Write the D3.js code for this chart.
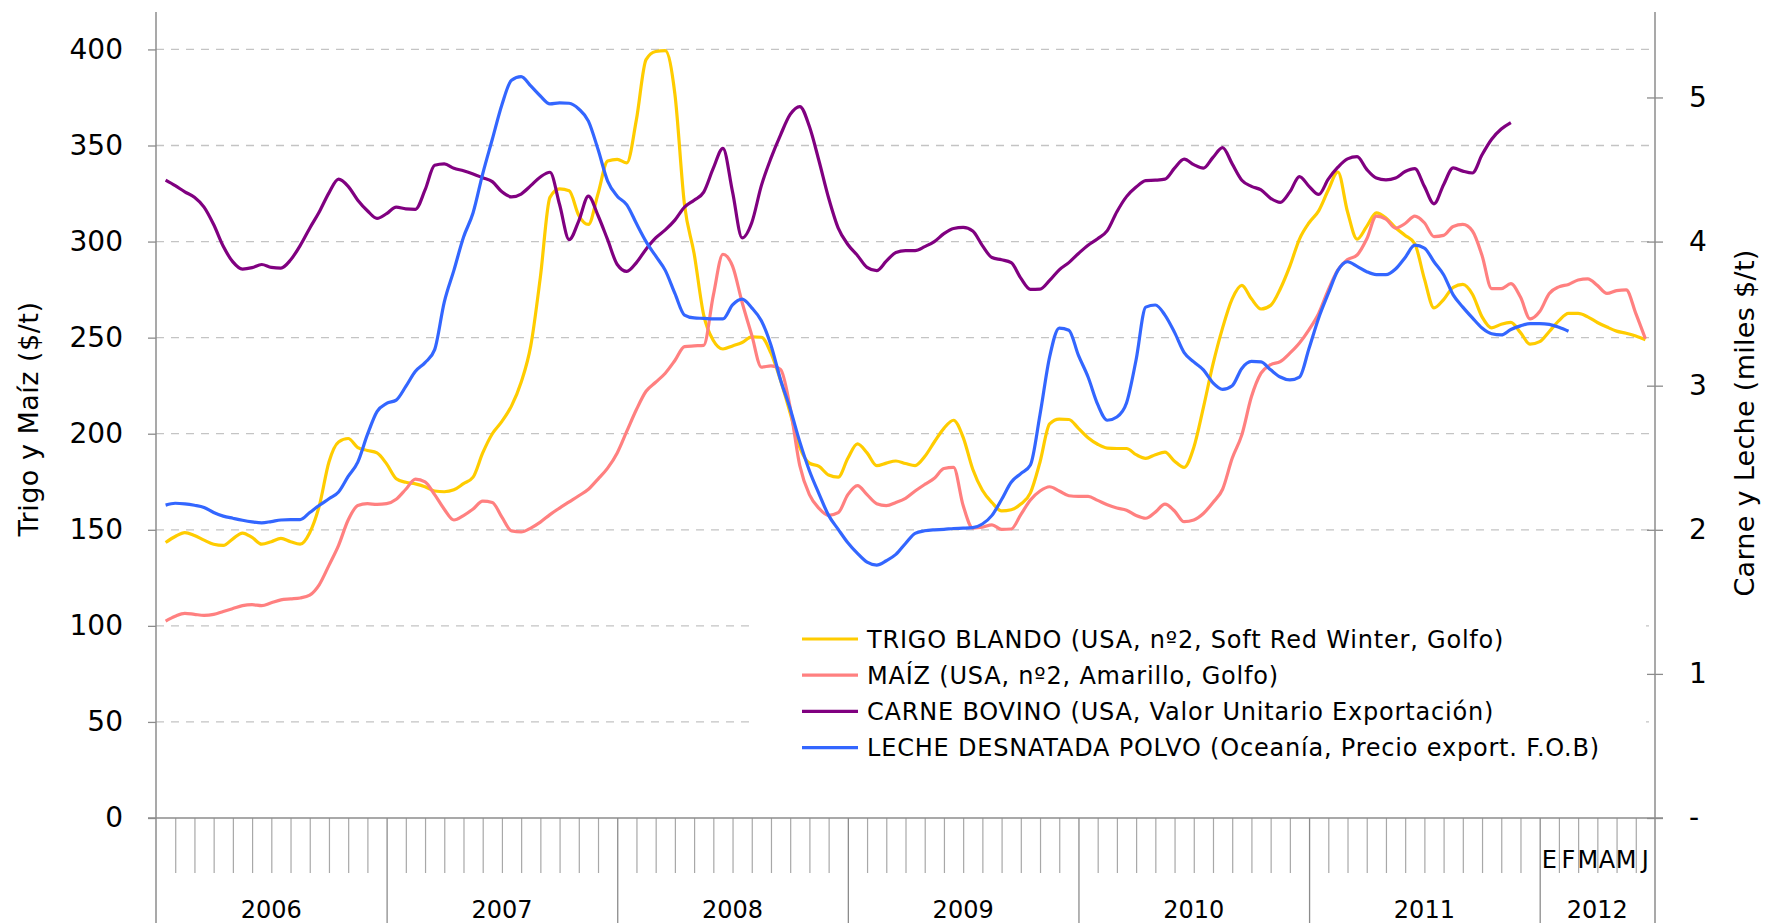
<!DOCTYPE html>
<html>
<head>
<meta charset="utf-8">
<script src="https://cdn.jsdelivr.net/npm/d3@7"></script>
<style>
  body { margin: 0; background: #fff; }
  svg { display: block; font-family: "DejaVu Sans", sans-serif; }
</style>
</head>
<body>
<div id="chart"></div>
<script>
// Values every half month, starting mid January 2006 ($/t)
const trigo = [
  143.4, 146.5, 148.5, 147, 144.6, 142.5, 141.9, 145.3, 148.3, 146, 142.5, 143.8, 145.5, 143.8, 142.5, 148.5,
  162.6, 185.3, 195.7, 197.5, 192.8, 191.3, 190, 184.3, 176.6, 174.7, 173.9, 172.4, 170.2, 169.8, 170.8,
  174, 177.4, 190, 200, 206.4, 214.5, 226.8, 245.7, 281.5, 323, 327.4, 326.4, 313.6, 308.9, 324.9, 341.9,
  342.8, 341, 363.6, 394.7, 398.9, 399.4, 376.8, 319.2, 293.8, 261.7, 248.5, 244.1, 245.7, 247.5, 250.4,
  250.2, 241.9, 227.7, 210.8, 192.8, 184.7, 183, 178.5, 177.4, 187.2, 194.7, 190, 183.4, 184.7, 185.8, 184.5,
  183.4, 188.1, 195.7, 202.8, 207, 198.1, 181.5, 170.6, 164.2, 159.8, 160.4, 163.4, 169.2, 185.3, 205.1, 207.6,
  207.4, 202.8, 197.9, 194.5, 192.5, 192.3, 192.3, 189.1, 187.2, 189.1, 190.4, 185.7, 182.5, 192.8, 213.6, 236.2,
  255.1, 270.2, 277.2, 270.2, 264.9, 266.8, 275.3, 287.2, 301.3, 309.8, 316, 326.8, 336.2, 315.5, 301.3,
  307.9, 314.9, 312.3, 307.2, 303.2, 298.9, 280.6, 265.5, 269.8, 276.2, 277.7, 272.6, 260.8, 255.1, 257,
  257.9, 252.6, 246.6, 247.9, 253.2, 258.9, 262.6, 262.6, 260.8, 257.9, 255.5, 253.4, 252.3, 250.8, 248.9
];
const maiz = [
  102.5, 105, 106.5, 106, 105.5, 106, 107.5, 109, 110.5, 111, 110.5, 112, 113.5, 114, 114.5, 116,
  121.5, 131.5, 141.9, 155.1, 162.6, 163.6, 163.2, 163.6, 165.9, 171.1, 176.4, 174.9, 168.3, 160.7, 155.1,
  157.4, 160.8, 164.9, 164.2, 156.6, 149.4, 148.9, 150.9, 154, 157.9, 161.3, 164.5, 167.7, 171.1, 176.4, 182.1,
  190, 201.3, 212.6, 222.1, 226.8, 231.5, 238.1, 245.3, 245.7, 246, 272, 293.4, 287.2, 268.3, 251.3,
  234.7, 235.3, 233.4, 213.6, 183.4, 168.3, 161.1, 157.5, 158.9, 168.3, 173, 168.3, 163.6, 162.6, 164.2, 166.4,
  170.2, 173.6, 176.8, 181.9, 182.5, 162.6, 150.9, 151.3, 152.6, 150.2, 150.4, 157.9, 165.5, 170.2, 172.4, 170.2,
  167.7, 167.4, 167.4, 165.3, 163, 161.3, 160.2, 157.4, 156, 159.2, 163.4, 159.8, 154.2, 155.1, 158.5, 164.2,
  171.1, 187.2, 199.4, 219.2, 231.5, 235.9, 237.5, 241.9, 247.2, 254.2, 262.6, 274.9, 285.3, 290.6, 293,
  301.3, 313.2, 311.7, 307, 309.4, 313.2, 309.8, 302.6, 303.2, 307.9, 308.9, 305.5, 292.8, 275.5, 275.5,
  278.1, 271.1, 259.8, 263.6, 273, 276.4, 277.7, 280, 280.6, 277.2, 273, 274.5, 274.9, 262.6, 249.4
];
// miles $/t
const carne = [
  4.426, 4.388, 4.345, 4.307, 4.239, 4.118, 3.967, 3.859, 3.809, 3.819, 3.841, 3.821, 3.816, 3.872, 3.972, 4.093,
  4.207, 4.338, 4.433, 4.383, 4.287, 4.214, 4.161, 4.194, 4.239, 4.227, 4.224, 4.358, 4.529, 4.539, 4.509,
  4.491, 4.469, 4.443, 4.416, 4.345, 4.310, 4.330, 4.388, 4.448, 4.481, 4.257, 4.013, 4.144, 4.315, 4.181, 4.013,
  3.841, 3.793, 3.854, 3.947, 4.025, 4.081, 4.149, 4.239, 4.287, 4.343, 4.509, 4.647, 4.345, 4.025, 4.131,
  4.388, 4.579, 4.741, 4.882, 4.937, 4.798, 4.559, 4.302, 4.093, 3.980, 3.904, 3.821, 3.798, 3.864, 3.924, 3.937,
  3.937, 3.965, 4.000, 4.055, 4.091, 4.098, 4.073, 3.972, 3.889, 3.874, 3.854, 3.746, 3.668, 3.670, 3.730, 3.804,
  3.854, 3.917, 3.975, 4.020, 4.076, 4.207, 4.312, 4.378, 4.423, 4.426, 4.433, 4.509, 4.572, 4.534, 4.509, 4.584,
  4.652, 4.539, 4.426, 4.383, 4.358, 4.300, 4.272, 4.345, 4.451, 4.383, 4.327, 4.433, 4.516, 4.574, 4.589,
  4.501, 4.441, 4.428, 4.441, 4.486, 4.506, 4.383, 4.262, 4.395, 4.511, 4.489, 4.476, 4.602, 4.710, 4.781, 4.826
];
const leche = [
  2.171, 2.184, 2.180, 2.170, 2.155, 2.120, 2.095, 2.080, 2.066, 2.055, 2.048, 2.057, 2.068, 2.071, 2.071, 2.120,
  2.170, 2.215, 2.262, 2.370, 2.470, 2.660, 2.820, 2.877, 2.900, 2.995, 3.100, 3.160, 3.250, 3.580, 3.800,
  4.030, 4.200, 4.470, 4.710, 4.950, 5.120, 5.145, 5.080, 5.010, 4.955, 4.962, 4.960, 4.920, 4.836, 4.640, 4.420,
  4.315, 4.255, 4.125, 4.000, 3.900, 3.800, 3.640, 3.490, 3.470, 3.467, 3.463, 3.463, 3.560, 3.600, 3.540,
  3.450, 3.280, 3.040, 2.840, 2.610, 2.410, 2.250, 2.100, 2.003, 1.910, 1.836, 1.775, 1.755, 1.785, 1.829, 1.905,
  1.975, 1.993, 2.000, 2.003, 2.009, 2.011, 2.015, 2.040, 2.100, 2.210, 2.330, 2.390, 2.450, 2.800, 3.200, 3.400,
  3.385, 3.210, 3.060, 2.870, 2.760, 2.783, 2.880, 3.180, 3.545, 3.560, 3.490, 3.370, 3.230, 3.165, 3.110, 3.020,
  2.975, 3.000, 3.120, 3.168, 3.165, 3.110, 3.060, 3.040, 3.060, 3.260, 3.470, 3.640, 3.800, 3.860, 3.828,
  3.791, 3.771, 3.771, 3.810, 3.890, 3.975, 3.955, 3.860, 3.770, 3.630, 3.545, 3.470, 3.400, 3.360, 3.352,
  3.390, 3.415, 3.431, 3.431, 3.425, 3.405, 3.378
];

const years = ["2006", "2007", "2008", "2009", "2010", "2011", "2012"];
const months2012 = ["E", "F", "M", "A", "M", "J"];
const leftTicks = [0, 50, 100, 150, 200, 250, 300, 350, 400];
const rightTicks = [0, 1, 2, 3, 4, 5];
const rightTickLabels = ["-", "1", "2", "3", "4", "5"];
const legendNames = [
  "TRIGO BLANDO (USA, nº2, Soft Red Winter, Golfo)",
  "MAÍZ (USA, nº2, Amarillo, Golfo)",
  "CARNE BOVINO (USA, Valor Unitario Exportación)",
  "LECHE DESNATADA POLVO (Oceanía, Precio export. F.O.B)"
];

const width = 1771, height = 923;
const plotLeft = 156, plotRight = 1655, plotTop = 11, plotBottom = 818;
const axisColor = "#8c8c8c";
const totalMonths = 78;

const series = [
  { name: legendNames[0], values: trigo, side: "left", color: "#ffcc00" },
  { name: legendNames[1], values: maiz, side: "left", color: "#ff8080" },
  { name: legendNames[2], values: carne, side: "right", color: "#800080" },
  { name: legendNames[3], values: leche, side: "right", color: "#3366ff" }
];

const svg = d3.select("#chart").append("svg")
    .attr("width", width)
    .attr("height", height);

const x = d3.scaleLinear().domain([0, totalMonths]).range([plotLeft, plotRight]);
const yLeft = d3.scaleLinear().domain([0, 420]).range([plotBottom, plotTop]);
const yRight = d3.scaleLinear().domain([0, 5.6]).range([plotBottom, plotTop]);

// dashed gridlines
svg.append("g")
    .selectAll("line")
    .data(leftTicks.filter(d => d > 0))
    .enter().append("line")
    .attr("x1", plotLeft)
    .attr("x2", plotRight)
    .attr("y1", d => yLeft(d))
    .attr("y2", d => yLeft(d))
    .attr("stroke", "#c4c4c4")
    .attr("stroke-width", 1.3)
    .attr("stroke-dasharray", "8,7");

// legend background hides the gridlines behind it
svg.append("rect")
    .attr("x", 751)
    .attr("y", 600)
    .attr("width", 1646 - 751)
    .attr("height", 190)
    .attr("fill", "#fff");

// left axis
const gLeft = svg.append("g")
    .attr("transform", `translate(${plotLeft},0)`)
    .call(d3.axisLeft(yLeft).tickValues(leftTicks).tickSize(8).tickPadding(25));
gLeft.select(".domain").remove();
gLeft.attr("font-family", null).attr("font-size", 28);
gLeft.selectAll(".tick line").attr("stroke", axisColor).attr("stroke-width", 1.3);
gLeft.selectAll(".tick text").attr("fill", "#000");

// right axis
const gRight = svg.append("g")
    .attr("transform", `translate(${plotRight},0)`)
    .call(d3.axisRight(yRight).tickValues(rightTicks).tickSize(8).tickPadding(26)
        .tickFormat((d, i) => rightTickLabels[i]));
gRight.select(".domain").remove();
gRight.attr("font-family", null).attr("font-size", 28);
gRight.selectAll(".tick line").attr("x1", -8).attr("stroke", axisColor).attr("stroke-width", 1.3);
gRight.selectAll(".tick text").attr("fill", "#000");

// month ticks and year dividers
const gMonths = svg.append("g")
    .attr("transform", `translate(0,${plotBottom})`)
    .call(d3.axisBottom(x).tickValues(d3.range(1, totalMonths).filter(d => d % 12 !== 0))
        .tickSize(55).tickFormat(""));
gMonths.select(".domain").remove();
gMonths.selectAll(".tick line").attr("stroke", "#a8a8a8").attr("stroke-width", 1.2);

const gYears = svg.append("g")
    .attr("transform", `translate(0,${plotBottom})`)
    .call(d3.axisBottom(x).tickValues([12, 24, 36, 48, 60, 72]).tickSize(height - plotBottom).tickFormat(""));
gYears.select(".domain").remove();
gYears.selectAll(".tick line").attr("stroke", axisColor).attr("stroke-width", 1.3);

// axis lines
svg.append("line")
    .attr("x1", plotLeft - 8).attr("x2", plotRight + 8)
    .attr("y1", plotBottom).attr("y2", plotBottom)
    .attr("stroke", axisColor).attr("stroke-width", 1.3);
[plotLeft, plotRight].forEach(px => {
    svg.append("line")
        .attr("x1", px).attr("x2", px)
        .attr("y1", plotTop + 1).attr("y2", height)
        .attr("stroke", axisColor).attr("stroke-width", 1.5);
});

// year labels
svg.append("g")
    .selectAll("text")
    .data(years)
    .enter().append("text")
    .attr("x", (d, i) => x((i * 12 + Math.min(i * 12 + 12, totalMonths)) / 2))
    .attr("y", 918)
    .attr("text-anchor", "middle")
    .attr("font-size", 24)
    .text(d => d);

// months of 2012
svg.append("g")
    .selectAll("text")
    .data(months2012)
    .enter().append("text")
    .attr("x", (d, i) => x(72.5 + i))
    .attr("y", 868)
    .attr("text-anchor", "middle")
    .attr("font-size", 24)
    .text(d => d);

// axis titles
svg.append("text")
    .attr("transform", "translate(38,419) rotate(-90)")
    .attr("text-anchor", "middle")
    .attr("font-size", 27)
    .attr("letter-spacing", 0.5)
    .text("Trigo y Maíz ($/t)");

svg.append("text")
    .attr("transform", "translate(1754,423) rotate(-90)")
    .attr("text-anchor", "middle")
    .attr("font-size", 27)
    .attr("letter-spacing", 0.3)
    .text("Carne y Leche (miles $/t)");

// series
series.forEach(s => {
    const yScale = s.side === "left" ? yLeft : yRight;
    const line = d3.line()
        .x((d, i) => x(0.5 + i * 0.5))
        .y(d => yScale(d))
        .curve(d3.curveMonotoneX);
    svg.append("path")
        .datum(s.values)
        .attr("fill", "none")
        .attr("stroke", s.color)
        .attr("stroke-width", 3.2)
        .attr("stroke-linejoin", "round")
        .attr("d", line);
});

// legend
const legend = svg.append("g").attr("transform", "translate(802,639)");
const legendRow = legend.selectAll("g")
    .data(series)
    .enter().append("g")
    .attr("transform", (d, i) => `translate(0,${i * 36.2})`);
legendRow.append("line")
    .attr("x1", 0).attr("x2", 56)
    .attr("stroke", d => d.color)
    .attr("stroke-width", 3.2);
legendRow.append("text")
    .attr("x", 65)
    .attr("dy", "0.36em")
    .attr("font-size", 24)
    .attr("letter-spacing", 0.8)
    .text(d => d.name);
</script>
</body>
</html>
